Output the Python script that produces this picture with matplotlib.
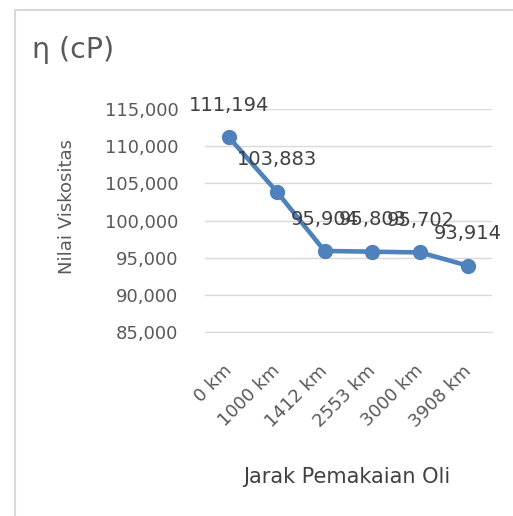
import matplotlib.pyplot as plt
from matplotlib.patches import Rectangle
from matplotlib.ticker import FuncFormatter

jarak = ["0 km", "1000 km", "1412 km", "2553 km", "3000 km", "3908 km"]
viskositas = [111194, 103883, 95904, 95803, 95702, 93914]
label_teks = ["111,194", "103,883", "95,904", "95,803", "95,702", "93,914"]
y_ticks = [85000, 90000, 95000, 100000, 105000, 110000, 115000]

plt.rcParams['font.family'] = ['DejaVu Sans']

fig = plt.figure(figsize=(5.13, 5.16), dpi=100)
W, H = 513, 516

# chart area border (only top and left are inside the picture)
fig.patches.append(Rectangle((14.5 / W, -0.1), 2, 1.1 - 9.5 / H,
                             transform=fig.transFigure, fill=False,
                             edgecolor='#d9d9d9', linewidth=1.5))

ax = fig.add_axes([205 / W, 1 - 332 / H, (492 - 205) / W, (332 - 109) / H])
x = list(range(len(jarak)))
ax.plot(x, viskositas, color='#4f81bd', linewidth=3.3, marker='o',
        markersize=10, zorder=3)

for xi, yi, t in zip(x, viskositas, label_teks):
    ax.annotate(t, (xi, yi), xytext=(0, 23), textcoords='offset points',
                ha='center', va='center', fontsize=14, color='#404040',
                zorder=4)

ax.set_xlim(-0.5, len(jarak) - 0.5)
ax.set_ylim(85000, 115000)
ax.set_yticks(y_ticks)
ax.yaxis.set_major_formatter(FuncFormatter(lambda v, p: "{:,.0f}".format(v)))
ax.grid(axis='y', color='#d9d9d9', linewidth=1)
ax.set_axisbelow(True)
for s in ['top', 'right', 'left']:
    ax.spines[s].set_visible(False)
ax.spines['bottom'].set_color('#d9d9d9')
ax.tick_params(axis='both', length=0, labelcolor='#595959', labelsize=13)
ax.tick_params(axis='y', pad=19)
ax.set_xticks(x)
ax.set_xticklabels(jarak, rotation=45, ha='right', va='center',
                   rotation_mode='anchor')
ax.tick_params(axis='x', pad=26)

fig.text(67 / W, 1 - 207 / H, "Nilai Viskositas", rotation=90, ha='center',
         va='center', fontsize=13, color='#595959')
fig.text(347 / W, 1 - 477 / H, "Jarak Pemakaian Oli", ha='center',
         va='center', fontsize=15, color='#404040')
fig.text(32 / W, 1 - 50 / H, "η (cP)", ha='left', va='center',
         fontsize=20.5, color='#595959')

fig.savefig('out.png', dpi=100)
